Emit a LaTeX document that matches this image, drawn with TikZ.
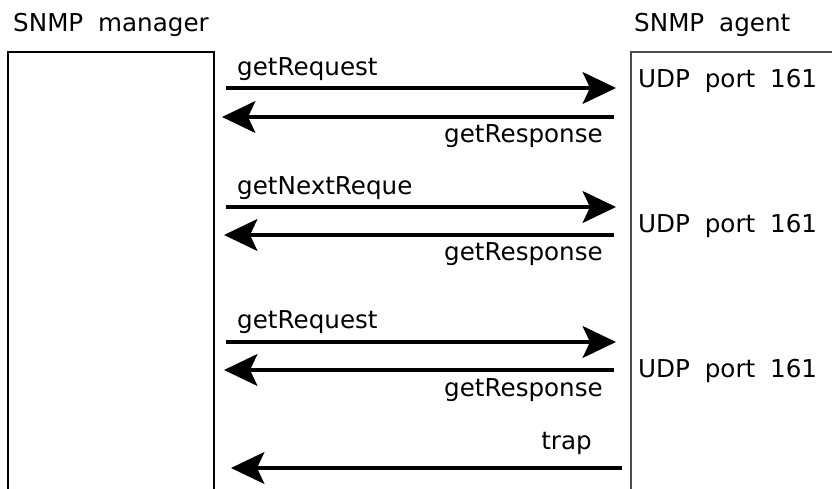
\documentclass[tikz,border=0pt]{standalone}
\usepackage{fontspec}
\setmainfont{DejaVu Sans}[WordSpace=1.9]
\usetikzlibrary{positioning, arrows.meta}

\begin{document}
\begin{tikzpicture}[x=0.03cm, y=-0.03cm, font=\fontsize{21}{25}\selectfont,
  msg/.style={-{Stealth[length=1cm, width=0.95cm, inset=0.22cm]}, line width=3.4pt},
  txt/.style={inner sep=0pt}]
  \useasboundingbox (0,0) rectangle (832,489);

  % the two sides
  \draw[line width=1.2pt] (8,489) -- (8,52) -- (214,52) -- (214,489);
  \draw[line width=1pt, black!70] (631,489) -- (631,52) -- (832,52);
  \node[txt, anchor=base west] (mgr) at (13,32) {SNMP manager};
  \node[txt, anchor=base west] (agt) at (634,32) {SNMP agent};
  \node[txt, anchor=base west] (port1) at (638,88) {UDP port 161};
  \node[txt, anchor=base west] (port2) at (638,233) {UDP port 161};
  \node[txt, anchor=base west] (port3) at (638,378) {UDP port 161};

  % message ends
  \coordinate (m1) at (226,88);  \coordinate (a1) at (616,88);
  \coordinate (a2) at (614,117); \coordinate (m2) at (222,117);
  \coordinate (m3) at (226,207); \coordinate (a3) at (616,207);
  \coordinate (a4) at (614,235); \coordinate (m4) at (224,235);
  \coordinate (m5) at (226,342); \coordinate (a5) at (616,342);
  \coordinate (a6) at (614,370); \coordinate (m6) at (224,370);
  \coordinate (a7) at (622,468); \coordinate (m7) at (231,468);

  \node[txt, anchor=base west] (req1) at (237,76) {getRequest};
  \node[txt, anchor=base east] (resp1) at (603,143) {getResponse};
  \node[txt, anchor=base west] (next) at (237,195) {getNextReque};
  \node[txt, anchor=base east] (resp2) at (603,261) {getResponse};
  \node[txt, anchor=base west] (req2) at (237,329) {getRequest};
  \node[txt, anchor=base east] (resp3) at (603,397) {getResponse};
  \node[txt, anchor=base east] (trap) at (592,450) {trap};

  \draw[msg] (m1) -- (a1);
  \draw[msg] (a2) -- (m2);
  \draw[msg] (m3) -- (a3);
  \draw[msg] (a4) -- (m4);
  \draw[msg] (m5) -- (a5);
  \draw[msg] (a6) -- (m6);
  \draw[msg] (a7) -- (m7);
\end{tikzpicture}
\end{document}
